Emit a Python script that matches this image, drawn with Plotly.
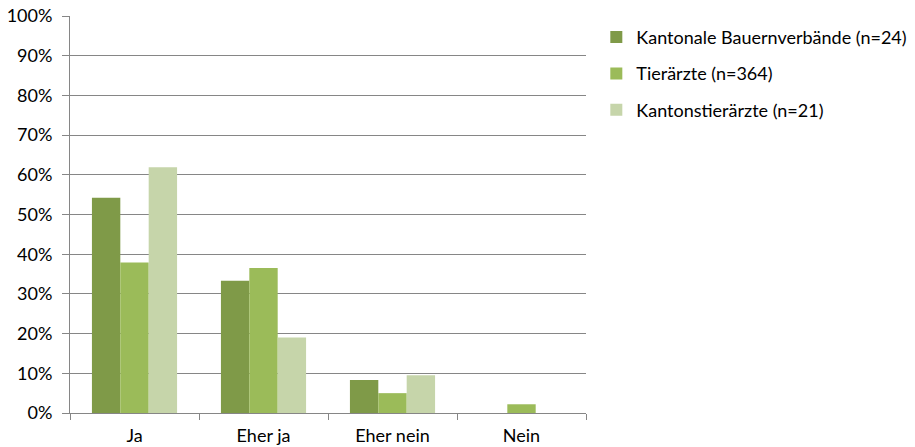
import plotly.graph_objects as go

categories = ["Ja", "Eher ja", "Eher nein", "Nein"]
series_names = ["Kantonale Bauernverbände (n=24)", "Tierärzte (n=364)", "Kantonstierärzte (n=21)"]
bauern = [0.542, 0.333, 0.083, 0.0]
tieraerzte = [0.379, 0.365, 0.050, 0.022]
kantonstier = [0.619, 0.190, 0.095, 0.0]
colors = ["#7F9A48", "#9BBB59", "#C6D5AA"]

fig = go.Figure()
for i, (name, vals) in enumerate(zip(series_names, [bauern, tieraerzte, kantonstier])):
    fig.add_trace(go.Bar(x=categories, y=vals, name=name, marker_color=colors[i],
                         marker_line_width=0, legendgroup=str(i)))

font = dict(family="Lato, Carlito, Calibri, sans-serif", size=18, color="#000000")
fig.update_layout(
    width=915, height=447,
    margin=dict(l=70, r=329, t=16, b=34, autoexpand=False),
    paper_bgcolor="white", plot_bgcolor="white",
    barmode="group", bargap=0.34, bargroupgap=0,
    font=font,
    legend=dict(x=1.02, y=0.993, xanchor="left", yanchor="top", xref="paper", yref="paper",
                traceorder="grouped", tracegroupgap=10, itemwidth=30,
                font=dict(family="Lato, Carlito, Calibri, sans-serif", size=18)),
    showlegend=True,
)
fig.update_xaxes(showline=True, linecolor="#868686", linewidth=1, ticks="outside",
                 tickson="boundaries", ticklen=6, tickcolor="#868686", showgrid=False,
                 tickfont=font, automargin=False, ticklabelstandoff=6,
                 ticklabeloverflow="allow")
fig.update_yaxes(range=[0, 1.0], tickvals=[i/10 for i in range(11)],
                 tickformat=".0%", showgrid=True, gridcolor="#868686", gridwidth=1,
                 showline=True, linecolor="#868686", linewidth=1, ticks="outside",
                 ticklen=7, tickcolor="#868686", zeroline=False, tickfont=font,
                 automargin=False, ticklabelstandoff=6, ticklabeloverflow="allow")
fig.write_html("out.html", config={"displayModeBar": False},
               post_script="document.body.style.margin='0';")
